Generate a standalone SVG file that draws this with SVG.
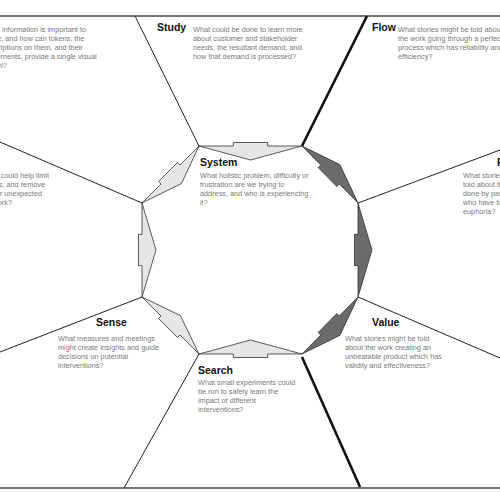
<svg xmlns="http://www.w3.org/2000/svg" width="500" height="500" viewBox="0 0 500 500">
<style>
.t{font-family:"Liberation Sans",Arial,sans-serif;font-weight:bold;font-size:10.5px;fill:#111}
.b{font-family:"Liberation Sans",Arial,sans-serif;font-size:7.3px;fill:#7a7a7a}
.thin{stroke:#222;stroke-width:1;fill:none}
.thick{stroke:#111;stroke-width:2.6;fill:none}
.border{stroke:#444;stroke-width:1.5;fill:none}
.lt{fill:#e6e6e6;stroke:#333;stroke-width:0.8;stroke-linejoin:miter}
.dk{fill:#6b6b6b;stroke:#333;stroke-width:0.8;stroke-linejoin:miter}
</style>
<rect width="500" height="500" fill="#fff"/>
<g id="connectors">
<line class="border" x1="0" y1="16" x2="500" y2="16"/>
<line class="border" x1="0" y1="488" x2="500" y2="488"/>
<line class="thin" x1="199" y1="146" x2="135" y2="16"/>
<line class="thick" x1="302" y1="146" x2="367" y2="16"/>
<line class="thin" x1="142" y1="203" x2="0" y2="142"/>
<line class="thin" x1="358" y1="203" x2="500" y2="150"/>
<line class="thin" x1="142" y1="297" x2="0" y2="352"/>
<line class="thin" x1="358" y1="297" x2="500" y2="358"/>
<line class="thin" x1="199" y1="354" x2="124" y2="488"/>
<line class="thick" x1="302" y1="357" x2="360" y2="487"/>
</g>
<g id="cycle">
<polygon class="lt" points="199,146 233.3,146 233.3,142.5 267.7,142.5 267.7,146 302,146 250.5,160"/>
<polygon class="dk" points="302,146 320.7,165 318.2,167.5 336.8,186.5 339.3,184 358,203 339.9,164.6"/>
<polygon class="dk" points="358,203 358,234.3 354.5,234.3 354.5,265.7 358,265.7 358,297 372,250"/>
<polygon class="dk" points="302,354 320.7,335 318.2,332.5 336.8,313.5 339.3,316 358,297 339.9,335.4"/>
<polygon class="lt" points="199,354 233.3,354 233.3,357.5 267.7,357.5 267.7,354 302,354 250.5,340"/>
<polygon class="lt" points="142,297 161,316 158.5,318.5 177.5,337.5 180,335 199,354 180.4,315.6"/>
<polygon class="lt" points="142,203 142,234.3 138.5,234.3 138.5,265.7 142,265.7 142,297 156,250"/>
<polygon class="lt" points="142,203 161,184 158.5,181.5 177.5,162.5 180,165 199,146 181.5,183.5"/>
</g>
<g id="share">
<text class="b" x="-17" y="31.5">What information is important to</text>
<text class="b" x="-17" y="40.5">share, and how can tokens, the</text>
<text class="b" x="-17" y="49.5">descriptions on them, and their</text>
<text class="b" x="-17" y="58.5">movements, provide a single visual</text>
<text class="b" x="-17" y="67.5">model?</text>
</g>
<g id="study">
<text class="t" x="157" y="31">Study</text>
<text class="b" x="193" y="31.5">What could be done to learn more</text>
<text class="b" x="193" y="40.5">about customer and stakeholder</text>
<text class="b" x="193" y="49.5">needs, the resultant demand, and</text>
<text class="b" x="193" y="58.5">how that demand is processed?</text>
</g>
<g id="flow">
<text class="t" x="372" y="31">Flow</text>
<text class="b" x="398" y="31.5">What stories might be told about</text>
<text class="b" x="398" y="40.5">the work going through a perfect</text>
<text class="b" x="398" y="49.5">process which has reliability and</text>
<text class="b" x="398" y="58.5">efficiency?</text>
</g>
<g id="stabilise">
<text class="b" x="49" y="177.5" text-anchor="end">What policies could help limit</text>
<text class="b" x="45" y="186.5" text-anchor="end">work in process, and remove</text>
<text class="b" x="42" y="195.5" text-anchor="end">blockers or unexpected</text>
<text class="b" x="12" y="204.5" text-anchor="end">rework?</text>
</g>
<g id="system">
<text class="t" x="200" y="166">System</text>
<text class="b" x="200" y="177.5">What holistic problem, difficulty or</text>
<text class="b" x="200" y="186.5">frustration are we trying to</text>
<text class="b" x="200" y="195.5">address, and who is experiencing</text>
<text class="b" x="200" y="204.5">it?</text>
</g>
<g id="potential">
<text class="t" x="497" y="166">Potential</text>
<text class="b" x="463" y="177.5">What stories might be</text>
<text class="b" x="463" y="186.5">told about the work being</text>
<text class="b" x="463" y="195.5">done by passionate people</text>
<text class="b" x="463" y="204.5">who have fulfilment and</text>
<text class="b" x="463" y="213.5">euphoria?</text>
</g>
<g id="sense">
<text class="t" x="96" y="326">Sense</text>
<text class="b" x="58" y="340.5">What measures and meetings</text>
<text class="b" x="58" y="349.5">might create insights and guide</text>
<text class="b" x="58" y="358.5">decisions on potential</text>
<text class="b" x="58" y="367.5">interventions?</text>
</g>
<g id="value">
<text class="t" x="372" y="326">Value</text>
<text class="b" x="345" y="340.5">What stories might be told</text>
<text class="b" x="345" y="349.5">about the work creating an</text>
<text class="b" x="345" y="358.5">unbeatable product which has</text>
<text class="b" x="345" y="367.5">validity and effectiveness?</text>
</g>
<g id="search">
<text class="t" x="198" y="374">Search</text>
<text class="b" x="198" y="384.5">What small experiments could</text>
<text class="b" x="198" y="393.5">be run to safely learn the</text>
<text class="b" x="198" y="402.5">impact of different</text>
<text class="b" x="198" y="411.5">interventions?</text>
</g>
</svg>
